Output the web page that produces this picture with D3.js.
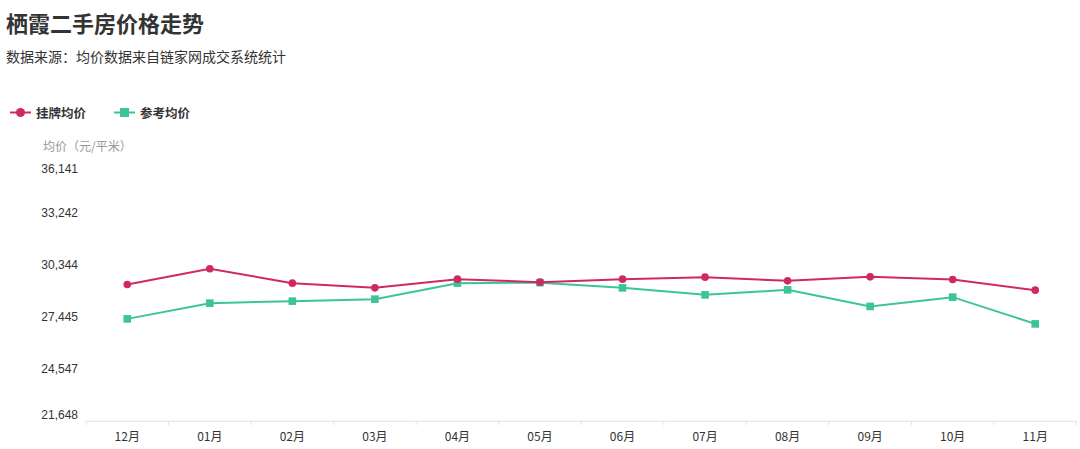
<!DOCTYPE html>
<html><head><meta charset="utf-8">
<script src="https://cdn.jsdelivr.net/npm/d3@7"></script>
<style>
html,body{margin:0;padding:0;background:#fff;}
svg{display:block;font-family:"Noto Sans CJK SC","Microsoft YaHei",sans-serif;}
</style></head>
<body>
<svg id="c" width="1080" height="449"></svg>
<script>
const categories = ["12月","01月","02月","03月","04月","05月","06月","07月","08月","09月","10月","11月"];
const listingPrice = [29268,30138,29340,29078,29563,29396,29563,29675,29469,29691,29547,28950];
const referencePrice = [27350,28226,28337,28448,29340,29368,29078,28688,28967,28042,28560,27072];
const yTicks = [21648,24547,27445,30344,33242,36141];
const seriesNames = ["挂牌均价","参考均价"];
const colors = ["#d0295f","#3cc497"];

const svg = d3.select("#c");
svg.append("text").attr("x",6).attr("y",32).attr("font-size",22).attr("font-weight","bold").attr("fill","#333").text("栖霞二手房价格走势");
svg.append("text").attr("x",6).attr("y",62).attr("font-size",14).attr("fill","#333").text("数据来源：均价数据来自链家网成交系统统计");

// legend
const lg = svg.append("g");
const lx = [10,114];
seriesNames.forEach((n,i)=>{
  const g = lg.append("g").attr("transform",`translate(${lx[i]},112.5)`);
  g.append("line").attr("x1",0).attr("x2",21).attr("stroke",colors[i]).attr("stroke-width",2);
  if(i===0) g.append("circle").attr("cx",10.5).attr("r",4.5).attr("fill",colors[i]);
  else g.append("rect").attr("x",6).attr("y",-4.5).attr("width",9).attr("height",9).attr("fill",colors[i]);
  g.append("text").attr("x",26).attr("y",5).attr("font-size",12.5).attr("font-weight","bold").attr("fill","#333").text(n);
});

const x = d3.scaleBand().domain(categories).range([86,1076.5]);
const y = d3.scaleLinear().domain([21648,36141]).range([421.3,161]);

svg.append("text").attr("x",43).attr("y",151).attr("font-size",12).attr("fill","#999").text("均价（元/平米）");

// y tick labels
yTicks.forEach((t,i)=>{
  let yy = y(t);
  if(i===0) yy -= 7;
  if(i===yTicks.length-1) yy += 8;
  svg.append("text").attr("x",78).attr("y",yy).attr("dy","0.35em").attr("text-anchor","end")
    .attr("font-size",12).attr("fill","#333").attr("font-family","Arial, 'Liberation Sans', sans-serif").text(d3.format(",")(t));
});

// x axis
const xa = svg.append("g").attr("transform","translate(0,421.3)");
xa.append("line").attr("x1",86).attr("x2",1076.5).attr("stroke","#e3e3e3").attr("stroke-width",1);
const bounds = categories.map(c=>x(c)).concat([x.range()[1]]);
bounds.forEach(b=>xa.append("line").attr("x1",b).attr("x2",b).attr("y1",0).attr("y2",4).attr("stroke","#e3e3e3"));
categories.forEach(c=>xa.append("text").attr("x",x(c)+x.bandwidth()/2).attr("y",15.5).attr("dy","0.35em")
  .attr("text-anchor","middle").attr("font-size",12).attr("fill","#333").text(c));

const cx = c=>x(c)+x.bandwidth()/2;
const line = d3.line().x((d,i)=>cx(categories[i])).y(d=>y(d));

[referencePrice, listingPrice].forEach((data,k)=>{
  const idx = k===0?1:0;
  svg.append("path").attr("d",line(data)).attr("fill","none").attr("stroke",colors[idx]).attr("stroke-width",2);
  const g = svg.append("g");
  data.forEach((v,i)=>{
    if(idx===0) g.append("circle").attr("cx",cx(categories[i])).attr("cy",y(v)).attr("r",3.8).attr("fill",colors[idx]);
    else g.append("rect").attr("x",cx(categories[i])-3.8).attr("y",y(v)-3.8).attr("width",7.6).attr("height",7.6).attr("fill",colors[idx]);
  });
});
</script>
</body></html>
